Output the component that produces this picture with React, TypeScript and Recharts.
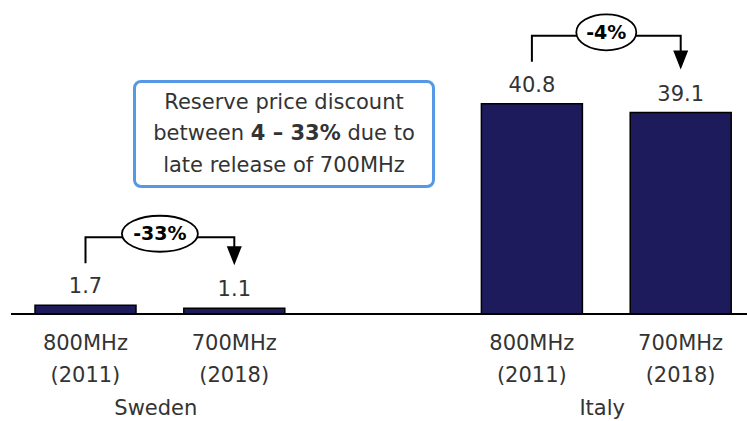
import { BarChart, Bar, XAxis, YAxis, LabelList } from "recharts";

// reserve prices (EUR cents/MHz/pop), one empty slot between the two countries
const bands = ["800MHz", "700MHz", "", "800MHz", "700MHz"];
const years = ["(2011)", "(2018)", "", "(2011)", "(2018)"];
const reservePrices: (number | null)[] = [1.7, 1.1, null, 40.8, 39.1];
const countries = ["Sweden", "", "", "Italy", ""];
const discounts = ["-33%", "", "", "-4%", ""];

const data = bands.map((band, i) => ({
  key: `c${i}`,
  band,
  year: years[i],
  country: countries[i],
  discount: discounts[i],
  value: reservePrices[i],
}));

const W = 760;
const H = 421;
const MARGIN = { top: 10, right: 5, left: 11, bottom: 0 };
const SLOT = (W - MARGIN.left - MARGIN.right) / bands.length;
const FONT = "'DejaVu Sans', sans-serif";
const TEXT = "#333333";

function CategoryTick(props: any) {
  const { x, y, payload } = props;
  const row = data[payload.index];
  if (!row) return null;
  return (
    <g fontFamily={FONT} fontSize={21} fill={TEXT} textAnchor="middle">
      <text x={x} y={y + 36}>{row.band}</text>
      <text x={x} y={y + 68}>{row.year}</text>
      {row.country && (
        <text x={x + SLOT / 2 - 4} y={y + 101}>{row.country}</text>
      )}
    </g>
  );
}

function ValueLabel(props: any) {
  const { x, y, width, value } = props;
  if (value == null) return null;
  return (
    <text
      x={x + width / 2}
      y={y - 12}
      textAnchor="middle"
      fontFamily={FONT}
      fontSize={21}
      fill={TEXT}
    >
      {value}
    </text>
  );
}

// bracket from one bar to the next with the change in an ellipse
function ChangeBracket(props: any) {
  const { x, y, width, height, value } = props;
  const i = data.findIndex((d) => d.value === value);
  const row = data[i];
  if (!row || !row.discount) return null;
  const v1 = row.value as number;
  const v2 = data[i + 1].value as number;
  const base = y + height;
  const top1 = y;
  const top2 = base - (height * v2) / v1;
  const x1 = x + width / 2;
  const x2 = x1 + SLOT;
  const level = Math.min(top1, top2) - 68;
  const tip = top2 - 43;
  const mid = (x1 + x2) / 2;
  const rx = row.discount.length * 8 + 6;
  return (
    <g>
      <polyline
        points={`${x1},${top1 - 42} ${x1},${level} ${x2},${level} ${x2},${tip - 17}`}
        fill="none"
        stroke="#000"
        strokeWidth={2}
      />
      <polygon
        points={`${x2 - 7.5},${tip - 19} ${x2 + 7.5},${tip - 19} ${x2},${tip}`}
        fill="#000"
      />
      <ellipse cx={mid} cy={level - 3.5} rx={rx} ry={18} fill="#fff" stroke="#000" strokeWidth={1.8} />
      <text
        x={mid}
        y={level + 3}
        textAnchor="middle"
        fontFamily={FONT}
        fontWeight="bold"
        fontSize={19}
        fill="#000"
      >
        {row.discount}
      </text>
    </g>
  );
}

export default function App() {
  return (
    <div
      style={{
        position: "fixed",
        left: 0,
        top: 0,
        width: 747,
        height: 421,
        overflow: "hidden",
        background: "#fff",
      }}
    >
      <BarChart width={W} height={H} data={data} margin={MARGIN}>
        <XAxis
          dataKey="key"
          height={107}
          tickLine={false}
          tickSize={0}
          tickMargin={0}
          interval={0}
          axisLine={{ stroke: "#000", strokeWidth: 2 }}
          tick={<CategoryTick />}
        />
        <YAxis hide domain={[0, 59]} />
        <Bar
          dataKey="value"
          fill="#1E1B5C"
          stroke="#000"
          strokeWidth={1.5}
          barSize={101}
          isAnimationActive={false}
        >
          <LabelList dataKey="value" content={<ValueLabel />} />
          <LabelList dataKey="value" content={<ChangeBracket />} />
        </Bar>
      </BarChart>
      <div
        style={{
          position: "absolute",
          left: 133,
          top: 80,
          width: 302,
          height: 108,
          boxSizing: "border-box",
          border: "3px solid #5599E6",
          borderRadius: 8,
          background: "#fff",
          display: "flex",
          flexDirection: "column",
          justifyContent: "center",
          alignItems: "center",
          fontFamily: FONT,
          fontSize: 21,
          lineHeight: "31.5px",
          color: TEXT,
          whiteSpace: "nowrap",
        }}
      >
        <div>Reserve price discount</div>
        <div>
          between <b>4 – 33%</b> due to
        </div>
        <div>late release of 700MHz</div>
      </div>
    </div>
  );
}
